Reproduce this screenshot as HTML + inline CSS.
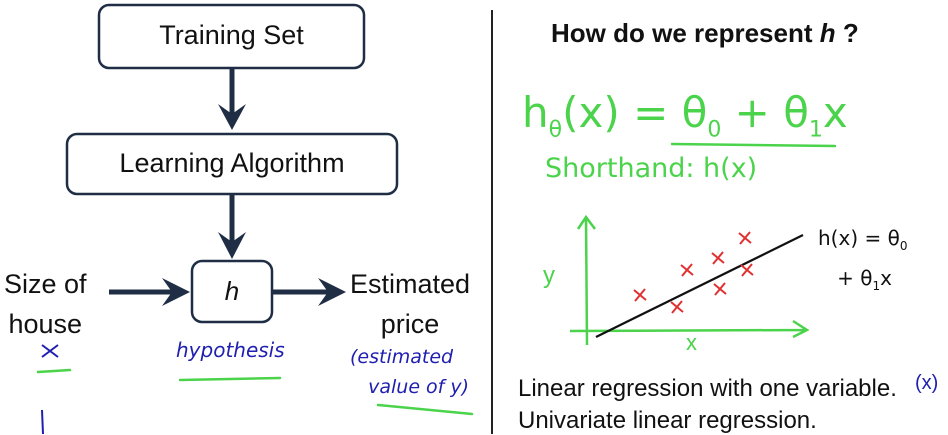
<!DOCTYPE html>
<html><head><meta charset="utf-8"><style>
body{margin:0;width:948px;height:434px;background:#fff;overflow:hidden;position:relative;font-family:"Liberation Sans",sans-serif}
.t{position:absolute;color:#111;white-space:nowrap}
</style></head><body>
<svg width="948" height="434" style="position:absolute;left:0;top:0">
<g fill="#fff" stroke="#1f2d45" stroke-width="2.5">
<rect x="99" y="5" width="265" height="63" rx="10"/>
<rect x="67" y="134" width="330" height="60" rx="10"/>
<rect x="192" y="261" width="80" height="61" rx="10"/>
</g>
<g stroke="#1f2d45" stroke-width="5" fill="#1f2d45">
<line x1="232" y1="68" x2="232" y2="120"/><path d="M218 104 L232 130 L246 104 L232 114Z" stroke="none"/>
<line x1="232" y1="194" x2="232" y2="248"/><path d="M218 232 L232 259 L246 232 L232 242Z" stroke="none"/>
<line x1="109" y1="292" x2="178" y2="292"/><path d="M162 278 L190 292 L162 306 L172 292Z" stroke="none"/>
<line x1="272" y1="292" x2="330" y2="292"/><path d="M318 278 L346 292 L318 306 L328 292Z" stroke="none"/>
</g>
<line x1="492" y1="10" x2="492" y2="434" stroke="#222" stroke-width="2"/>
<g stroke="#4bd34b" stroke-width="2.5" fill="none" stroke-linecap="round">
<line x1="38" y1="372" x2="70" y2="370"/>
<line x1="180" y1="380" x2="280" y2="378"/>
<line x1="378" y1="405" x2="472" y2="414"/>
<line x1="672" y1="144" x2="835" y2="146"/>
</g>
<g stroke="#2020b0" stroke-width="2" fill="none">
<path d="M42 345 L58 357 M58 345 L42 357"/>
<path d="M42 410 L43 434"/>
</g>
<g id="chart"></g>
</svg>
<div class="t" style="left:99px;width:265px;text-align:center;top:20px;font-size:27px">Training Set</div>
<div class="t" style="left:67px;width:330px;text-align:center;top:148px;font-size:27px">Learning Algorithm</div>
<div class="t" style="left:192px;width:80px;text-align:center;top:276px;font-size:26px;font-style:italic">h</div>
<div class="t" style="left:4px;top:264px;font-size:27px;line-height:40px;text-align:center">Size of<br>house</div>
<div class="t" style="left:350px;top:264px;font-size:27px;line-height:40px;text-align:center">Estimated<br>price</div>
<div class="t" style="left:176px;top:338px;font-size:20px;color:#2020b0;font-style:italic;font-family:'DejaVu Sans',sans-serif">hypothesis</div>
<div class="t" style="left:350px;top:342px;font-size:19px;color:#2020b0;font-style:italic;line-height:30px;font-family:'DejaVu Sans',sans-serif">(estimated<br>&nbsp;&nbsp;&nbsp;value of y)</div>
<div class="t" style="left:551px;top:18px;font-size:26px;font-weight:bold">How do we represent <i>h</i> ?</div>
<div class="t" style="left:522px;top:88px;font-size:42px;color:#4bd34b;font-family:'DejaVu Sans',sans-serif">h<sub style="font-size:22px">θ</sub>(x) = θ<sub style="font-size:22px">0</sub> + θ<sub style="font-size:22px">1</sub>x</div>
<div class="t" style="left:545px;top:153px;font-size:27px;color:#4bd34b;font-family:'DejaVu Sans',sans-serif">Shorthand: h(x)</div>
<div class="t" style="left:818px;top:222px;font-size:20px;line-height:32px;font-family:'DejaVu Sans',sans-serif">h(x) = θ<sub style="font-size:12px">0</sub><br>&nbsp;&nbsp;&nbsp;+ θ<sub style="font-size:12px">1</sub>x</div>
<div class="t" style="left:543px;top:262px;font-size:24px;color:#4bd34b">y</div>
<div class="t" style="left:686px;top:330px;font-size:22px;color:#4bd34b">x</div>
<div class="t" style="left:518px;top:375px;font-size:24px">Linear regression with one variable.</div>
<div class="t" style="left:518px;top:407px;font-size:24px">Univariate linear regression.</div>
<div class="t" style="left:915px;top:372px;font-size:20px;color:#2020b0">(x)</div>
<script>
const pointX=[2.65,4.5,5,6.55,6.65,7.9,8];
const pointY=[3.6,2.4,6.1,7.3,4.2,9.3,6.1];
const theta0=-1.04;
const theta1=0.985;
const lineRange=[0.45,10.8];
const X0=587,Y0=331;
function sx(v){return X0+v*20;}
function sy(v){return Y0-v*10;}
const NS="http://www.w3.org/2000/svg";
const g=document.getElementById('chart');
function mk(tag,attrs){const e=document.createElementNS(NS,tag);for(const k in attrs)e.setAttribute(k,attrs[k]);g.appendChild(e);return e;}
const ya=mk('path',{d:`M${sx(0)} ${sy(-1.4)} L${sx(0)-1} ${sy(11.4)} M${sx(0)-9} ${sy(10.2)} L${sx(0)-1} ${sy(11.4)} L${sx(0)+8} ${sy(10.2)}`,stroke:'#4bd34b','stroke-width':2.5,fill:'none'});


const xa=mk('path',{d:`M${sx(-0.85)} ${sy(0)} L${sx(11)} ${sy(0.1)} M${sx(10.3)} ${sy(1)} L${sx(11)} ${sy(0.1)} L${sx(10.3)} ${sy(-0.6)}`,stroke:'#4bd34b','stroke-width':2.5,fill:'none'});


const fl=mk('line',{x1:sx(lineRange[0]),y1:sy(theta0+theta1*lineRange[0]),x2:sx(lineRange[1]),y2:sy(theta0+theta1*lineRange[1]),stroke:'#111','stroke-width':2.2});


for(let i=0;i<pointX.length;i++){
 const cx=sx(pointX[i]),cy=sy(pointY[i]);
 const p=mk('path',{d:`M${cx-6} ${cy-5} L${cx+6} ${cy+5} M${cx+5} ${cy-6} L${cx-5} ${cy+6}`,stroke:'#e03030','stroke-width':2,fill:'none'});
 
 
}
</script>
</body></html>
